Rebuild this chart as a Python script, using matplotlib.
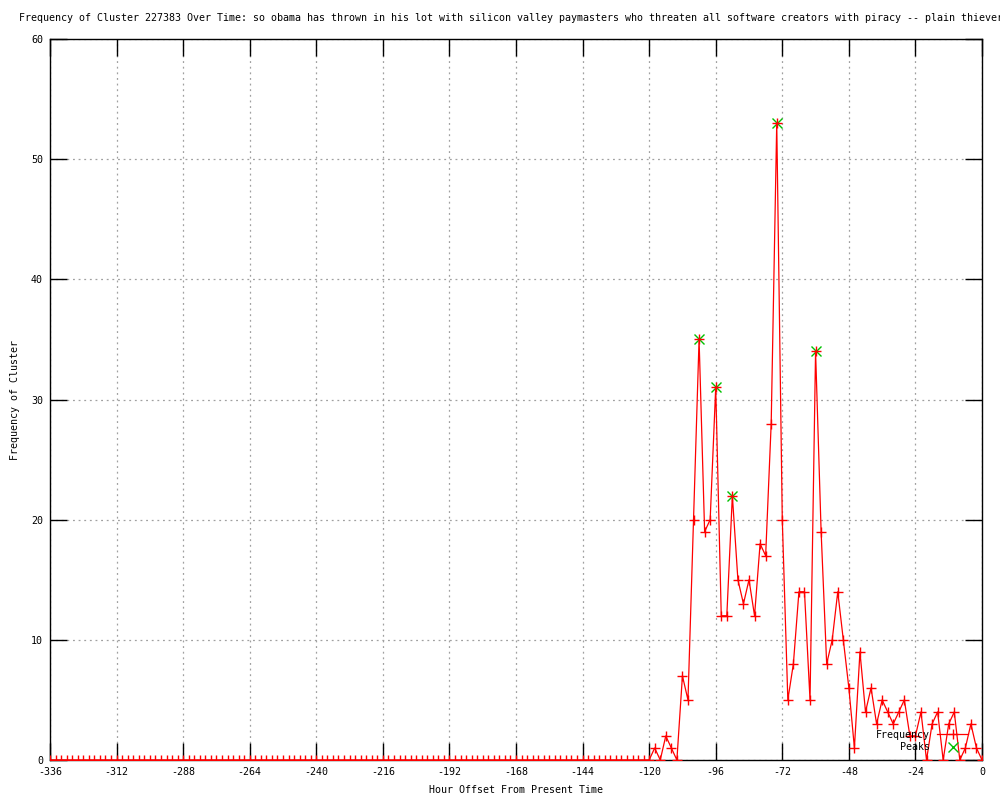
import numpy as np
import matplotlib
matplotlib.use("Agg")
import matplotlib.pyplot as plt
from matplotlib.lines import Line2D

title = ("Frequency of Cluster 227383 Over Time: so obama has thrown in his lot with "
         "silicon valley paymasters who threaten all software creators with piracy -- plain thievery")
x_label = "Hour Offset From Present Time"
y_label = "Frequency of Cluster"

hours = list(range(-336, 1, 2))
frequency = [
    0, 0, 0, 0, 0, 0, 0, 0, 0, 0, 0, 0, 0, 0, 0, 0, 0, 0,
    0, 0, 0, 0, 0, 0, 0, 0, 0, 0, 0, 0, 0, 0, 0, 0, 0, 0,
    0, 0, 0, 0, 0, 0, 0, 0, 0, 0, 0, 0, 0, 0, 0, 0, 0, 0,
    0, 0, 0, 0, 0, 0, 0, 0, 0, 0, 0, 0, 0, 0, 0, 0, 0, 0,
    0, 0, 0, 0, 0, 0, 0, 0, 0, 0, 0, 0, 0, 0, 0, 0, 0, 0,
    0, 0, 0, 0, 0, 0, 0, 0, 0, 0, 0, 0, 0, 0, 0, 0, 0, 0,
    # -120 .. 0
    0, 1, 0, 2, 1, 0, 7, 5, 20, 35,
    19, 20, 31, 12, 12, 22, 15, 13, 15, 12,
    18, 17, 28, 53, 20, 5, 8, 14, 14, 5,
    34, 19, 8, 10, 14, 10, 6, 1, 9, 4,
    6, 3, 5, 4, 3, 4, 5, 2, 2, 4,
    0, 3, 4, 0, 3, 4, 0, 1, 3, 1,
    0,
]
peak_hours = [-102, -96, -90, -74, -60]
peak_values = [35, 31, 22, 53, 34]

x_ticks = list(range(-336, 1, 24))
y_ticks = list(range(0, 61, 10))

FONT = "DejaVu Sans Mono"
FS = 7.2

fig = plt.figure(figsize=(10, 8), dpi=100)
ax = fig.add_axes([0.05, 0.05, 0.932, 0.90125])

ax.plot(peak_hours, peak_values, linestyle="none", marker="x", color="#00c000",
        markersize=6.5, markeredgewidth=1.0, zorder=3, label="Peaks")
ax.plot(hours, frequency, color="#ff0000", linewidth=0.9, marker="+",
        markersize=7, markeredgewidth=1.0, zorder=4, label="Frequency")

ax.set_xlim(-336, 0)
ax.set_ylim(0, 60)
ax.set_xticks(x_ticks)
ax.set_xticklabels([str(v) for v in x_ticks], fontfamily=FONT, fontsize=FS)
ax.set_yticks(y_ticks)
ax.set_yticklabels([str(v) for v in y_ticks], fontfamily=FONT, fontsize=FS)
ax.tick_params(direction="in", length=12, width=1, top=True, right=True,
               pad=5, colors="black")
ax.grid(True, color="#a0a0a0", linestyle=(0, (1.5, 3)), linewidth=0.9)
for s in ax.spines.values():
    s.set_linewidth(1.0)
    s.set_color("black")

ax.set_xlabel(x_label, fontfamily=FONT, fontsize=FS, labelpad=6)
ax.set_ylabel(y_label, fontfamily=FONT, fontsize=FS, labelpad=8)
fig.text(0.019, 0.978, title, fontfamily=FONT, fontsize=FS, ha="left", va="center")

h_freq = Line2D([], [], color="#ff0000", linewidth=0.9, marker="+", markersize=7,
                markeredgewidth=1.0)
h_peak = Line2D([], [], color="#00c000", linestyle="none", marker="x",
                markersize=6.5, markeredgewidth=1.0)
leg = ax.legend([h_freq, h_peak], ["Frequency", "Peaks"], loc="lower right",
                bbox_to_anchor=(0.985, 0.011), frameon=False, markerfirst=False,
                prop={"family": FONT, "size": FS}, handlelength=3.1,
                handletextpad=0.7, labelspacing=0.25, borderaxespad=0.0,
                borderpad=0.0)

fig.savefig("out.png", dpi=100)
